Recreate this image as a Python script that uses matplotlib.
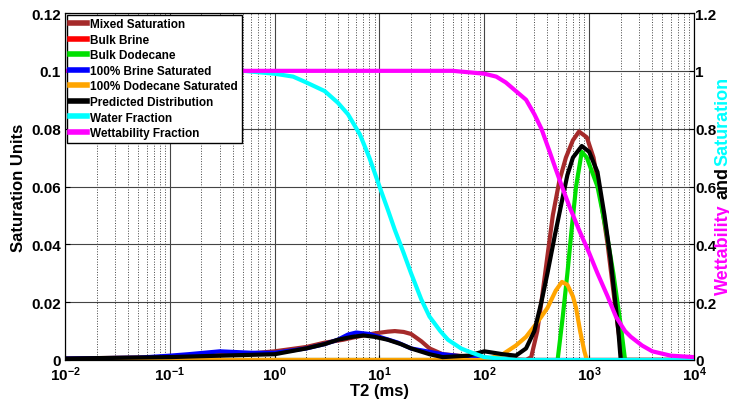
import matplotlib
matplotlib.use("Agg")
import matplotlib.pyplot as plt

plt.rcParams['font.family'] = 'Liberation Sans'
plt.rcParams['font.weight'] = 'bold'
plt.rcParams['mathtext.default'] = 'bf'

# Saturation curves (left axis)
mixed_x = [0.01, 0.1, 0.5, 1, 2, 3, 4.5, 6, 9, 12, 14, 17, 20, 25, 30, 40, 80, 250, 280, 320, 350, 400, 450, 520, 600, 700, 800, 950, 1100, 1300, 1500, 1700, 1900, 2100, 10000]
mixed_y = [0.0005, 0.001, 0.002, 0.003, 0.0045, 0.006, 0.007, 0.008, 0.0092, 0.0098, 0.010, 0.0097, 0.009, 0.0065, 0.004, 0.002, 0.001, 0.0, 0.001, 0.01, 0.02, 0.036, 0.05, 0.062, 0.07, 0.076, 0.079, 0.077, 0.07, 0.055, 0.04, 0.024, 0.01, 0.0, 0.0]

brine_x = [0.01, 10000]
brine_y = [0.0, 0.0]

dodecane_x = [0.01, 500, 560, 620, 680, 750, 850, 950, 1200, 1450, 1700, 2000, 2200, 10000]
dodecane_y = [0.0, 0.0, 0.015, 0.03, 0.045, 0.06, 0.072, 0.07, 0.06, 0.045, 0.03, 0.012, 0.0, 0.0]

brine_sat_x = [0.01, 0.05, 0.1, 0.15, 0.3, 0.6, 1, 2, 3, 4, 5, 6, 8, 10, 15, 20, 40, 70, 120, 10000]
brine_sat_y = [0.0005, 0.0008, 0.0015, 0.002, 0.003, 0.0025, 0.0025, 0.004, 0.0055, 0.007, 0.0088, 0.0095, 0.009, 0.008, 0.006, 0.004, 0.002, 0.001, 0.0, 0.0]

dod_sat_x = [0.01, 100, 150, 200, 250, 320, 400, 480, 550, 620, 700, 750, 820, 900, 950, 10000]
dod_sat_y = [0.0, 0.0, 0.002, 0.005, 0.008, 0.013, 0.018, 0.024, 0.027, 0.026, 0.022, 0.018, 0.01, 0.003, 0.0, 0.0]

pred_x = [0.01, 0.1, 0.3, 1, 2, 3, 4, 5.5, 7, 9, 12, 16, 20, 30, 40, 70, 100, 150, 200, 250, 300, 350, 400, 470, 550, 620, 700, 850, 1000, 1200, 1400, 1600, 1800, 1900, 2000, 10000]
pred_y = [0.0005, 0.001, 0.0015, 0.002, 0.004, 0.0055, 0.007, 0.008, 0.0085, 0.008, 0.007, 0.0055, 0.004, 0.002, 0.001, 0.0015, 0.003, 0.002, 0.0015, 0.004, 0.01, 0.02, 0.03, 0.043, 0.055, 0.064, 0.07, 0.074, 0.072, 0.065, 0.05, 0.035, 0.018, 0.01, 0.0, 0.0]

# Fractions (right axis)
water_x = [0.01, 0.5, 1, 1.5, 2, 3, 4, 5, 6.5, 8, 10, 12, 14, 17, 20, 25, 30, 38, 45, 60, 70, 100, 200, 10000]
water_y = [1.0, 1.0, 0.99, 0.98, 0.96, 0.93, 0.89, 0.85, 0.78, 0.7, 0.6, 0.52, 0.45, 0.37, 0.3, 0.21, 0.15, 0.1, 0.07, 0.04, 0.03, 0.01, 0.0, 0.0]

wett_x = [0.01, 50, 100, 130, 160, 200, 250, 300, 350, 420, 480, 550, 650, 800, 1000, 1200, 1500, 1800, 2200, 2500, 3200, 4000, 6000, 10000]
wett_y = [1.0, 1.0, 0.99, 0.98, 0.96, 0.93, 0.9, 0.85, 0.8, 0.72, 0.66, 0.6, 0.53, 0.45, 0.37, 0.3, 0.22, 0.15, 0.1, 0.08, 0.05, 0.03, 0.015, 0.01]

fig = plt.figure(figsize=(7.29, 4.06), dpi=100)
ax = fig.add_axes([65/729, 45/406, 629/729, 347/406])
ax2 = ax.twinx()

lw = 3
lines = []
lines += ax.plot(mixed_x, mixed_y, color='#a52a2a', lw=lw, label='Mixed Saturation')
lines += ax.plot(brine_x, brine_y, color='red', lw=lw, label='Bulk Brine')
lines += ax.plot(dodecane_x, dodecane_y, color='#00e000', lw=lw, label='Bulk Dodecane')
lines += ax.plot(brine_sat_x, brine_sat_y, color='blue', lw=lw, label='100% Brine Saturated')
lines += ax.plot(dod_sat_x, dod_sat_y, color='orange', lw=lw, label='100% Dodecane Saturated')
lines += ax.plot(pred_x, pred_y, color='black', lw=lw, label='Predicted Distribution')
lines += ax2.plot(water_x, water_y, color='cyan', lw=lw, label='Water Fraction')
lines += ax2.plot(wett_x, wett_y, color='magenta', lw=lw, label='Wettability Fraction')

ax.set_xscale('log')
ax.set_xlim(0.01, 10000)
ax.set_ylim(0, 0.12)
ax2.set_ylim(0, 1.2)
ax.set_yticks([0, 0.02, 0.04, 0.06, 0.08, 0.1, 0.12])
ax.set_yticklabels(['0', '0.02', '0.04', '0.06', '0.08', '0.1', '0.12'])
ax2.set_yticks([0, 0.2, 0.4, 0.6, 0.8, 1.0, 1.2])
ax2.set_yticklabels(['0', '0.2', '0.4', '0.6', '0.8', '1', '1.2'])
ax.grid(True, which='major', color='#444444', lw=0.8)
ax.grid(True, which='minor', axis='x', color='#444444', lw=0.7, ls=':')
ax.tick_params(labelsize=11, direction='in', which='both', pad=3)
ax2.tick_params(labelsize=11, direction='in', pad=1)
ax.set_xlabel('T2 (ms)', fontsize=12, fontweight='bold', labelpad=0)
ax.set_ylabel('Saturation Units', fontsize=12, fontweight='bold')

# legend on the top axes so it hides the lines under it
leg = ax2.legend(handles=lines, loc='upper left', fontsize=8.5, fancybox=False,
                 edgecolor='black', framealpha=1, handlelength=1.4,
                 handletextpad=0.3, borderaxespad=0.15, labelspacing=0.3,
                 borderpad=0.3)
leg.get_frame().set_linewidth(1)
for h in leg.get_lines():
    h.set_linewidth(4)

# multicolour right label, clipped at the figure edge like the reference
fig.text(723/729, 111/406, 'Wettability', color='magenta', rotation=90,
         fontsize=13, fontweight='bold', ha='center', va='bottom')
fig.text(723/729, 207/406, 'and', color='black', rotation=90,
         fontsize=13, fontweight='bold', ha='center', va='bottom')
fig.text(723/729, 240/406, 'Saturation', color='cyan', rotation=90,
         fontsize=13, fontweight='bold', ha='center', va='bottom')

fig.savefig('out.png', dpi=100)
